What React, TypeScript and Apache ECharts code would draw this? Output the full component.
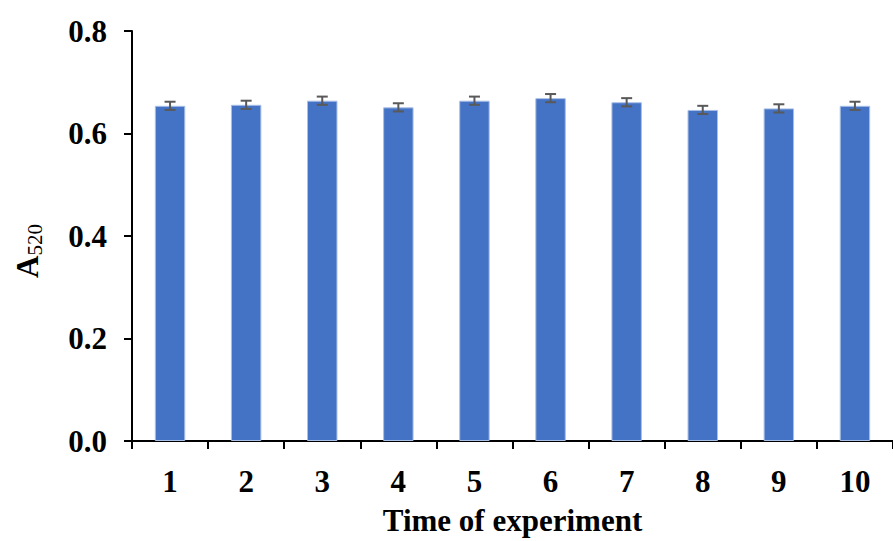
import React, { useEffect, useRef } from "react";
import * as echarts from "echarts";

const categories = ["1", "2", "3", "4", "5", "6", "7", "8", "9", "10"];
const values = [0.654, 0.656, 0.664, 0.651, 0.664, 0.669, 0.661, 0.646, 0.649, 0.654];
const errors = [0.008, 0.008, 0.008, 0.008, 0.008, 0.008, 0.008, 0.008, 0.008, 0.008];
const yTicks = [0, 0.2, 0.4, 0.6, 0.8];

const FONT = "Liberation Serif";

export default function App() {
  const ref = useRef<HTMLDivElement>(null);
  useEffect(() => {
    if (!ref.current) return;
    const chart = echarts.init(ref.current, undefined, { renderer: "svg" });
    const errData = values.map((v, i) => [i, v - errors[i], v + errors[i]]);
    chart.setOption({
      animation: false,
      grid: { left: 132, top: 31, bottom: 99, right: -9, containLabel: false },
      xAxis: {
        type: "category",
        data: categories,
        name: "Time of experiment",
        nameLocation: "middle",
        nameGap: 64,
        nameTextStyle: { fontFamily: FONT, fontSize: 31, fontWeight: "bold", color: "#000" },
        axisLine: { lineStyle: { color: "#000", width: 2 } },
        axisTick: { show: true, alignWithLabel: false, length: 8, lineStyle: { color: "#000", width: 2 } },
        axisLabel: { fontFamily: FONT, fontSize: 31, fontWeight: "bold", color: "#000", margin: 25 },
      },
      yAxis: {
        type: "value",
        min: yTicks[0],
        max: yTicks[yTicks.length - 1],
        interval: 0.2,
        splitLine: { show: false },
        axisLine: { show: true, lineStyle: { color: "#000", width: 2 } },
        axisTick: { show: true, length: 8, lineStyle: { color: "#000", width: 2 } },
        axisLabel: {
          fontFamily: FONT,
          fontSize: 31,
          fontWeight: "bold",
          color: "#000",
          margin: 25,
          formatter: (v: number) => v.toFixed(1),
        },
      },
      graphic: [
        {
          type: "text",
          x: 27,
          y: 251,
          rotation: Math.PI / 2,
          style: {
            text: "{a|A}{s|520}",
            align: "center",
            verticalAlign: "middle",
            rich: {
              a: { fontFamily: FONT, fontSize: 31, fontWeight: "bold", fill: "#000", lineHeight: 32 },
              s: { fontFamily: FONT, fontSize: 21, fill: "#000", lineHeight: 21, padding: [16, 0, 0, 0] },
            },
          },
        },
      ],
      series: [
        {
          type: "bar",
          data: values,
          barWidth: "40%",
          itemStyle: { color: "#4472C4", borderColor: "#A8BFE6", borderWidth: 1 },
        },
        {
          type: "custom",
          data: errData,
          z: 10,
          renderItem: (params: any, api: any) => {
            const x = api.value(0);
            const lo = api.coord([x, api.value(1)]);
            const hi = api.coord([x, api.value(2)]);
            const hw = 5.5;
            const style = { stroke: "#595959", lineWidth: 2 };
            return {
              type: "group",
              children: [
                { type: "line", shape: { x1: lo[0], y1: lo[1], x2: hi[0], y2: hi[1] }, style },
                { type: "line", shape: { x1: lo[0] - hw, y1: lo[1], x2: lo[0] + hw, y2: lo[1] }, style },
                { type: "line", shape: { x1: hi[0] - hw, y1: hi[1], x2: hi[0] + hw, y2: hi[1] }, style },
              ],
            };
          },
        },
      ],
    });
    return () => chart.dispose();
  }, []);
  return (
    <div
      ref={ref}
      style={{ position: "absolute", left: 0, top: 0, width: 893, height: 541, overflow: "hidden" }}
    />
  );
}
